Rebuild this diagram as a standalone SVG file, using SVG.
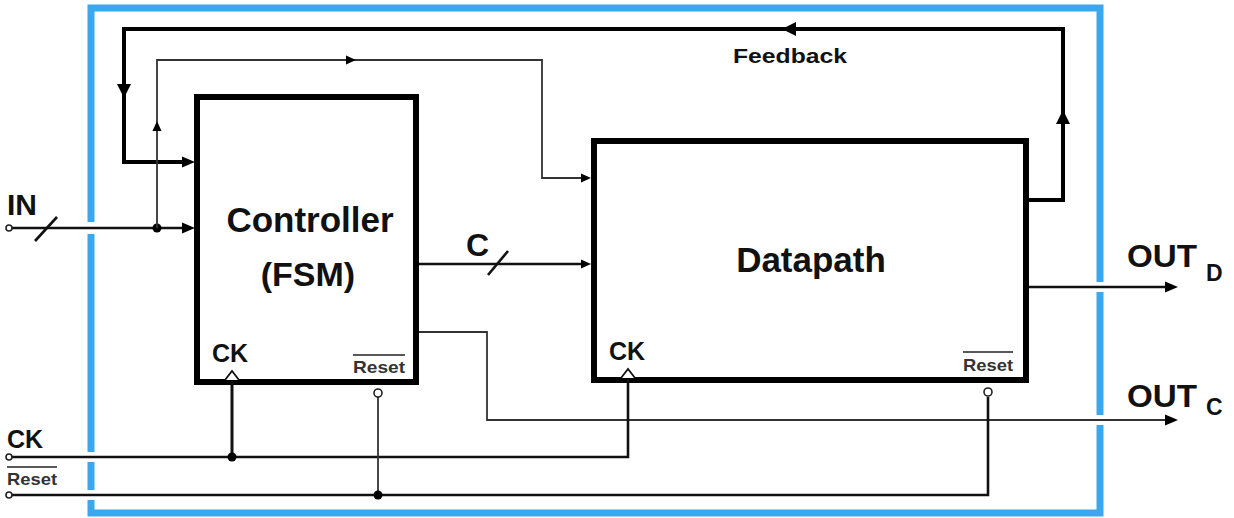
<svg xmlns="http://www.w3.org/2000/svg" xmlns:xlink="http://www.w3.org/1999/xlink" width="1234" height="518" viewBox="0 0 1234 518">
<style>
text{font-family:"Liberation Sans",Arial,sans-serif;font-weight:bold;fill:#111}
.box{fill:#fff;stroke:#000;stroke-width:6}
.thick{fill:none;stroke:#000;stroke-width:4}
.med{fill:none;stroke:#111;stroke-width:2.6}
.thin{fill:none;stroke:#333;stroke-width:1.8}
.ah{fill:#000}
.dot{fill:#000}
.port{fill:#fff;stroke:#222;stroke-width:1.6}
.ovl{stroke:#222;stroke-width:1.6}
.rst{font-size:17px;font-weight:bold;fill:#333}
.sub{font-size:23px}
</style>
<defs>
<path id="ahL" d="M0,0 L-14,-7 L-14,7 Z"/>
<path id="ahM" d="M0,0 L-13,-5.5 L-13,5.5 Z"/>
<path id="ahS" d="M0,0 L-10,-4.5 L-10,4.5 Z"/>
</defs>
<rect width="1234" height="518" fill="#fff"/>
<g id="border">
<rect x="91" y="8" width="1009" height="505" fill="none" stroke="#3ba7ee" stroke-width="7"/>
<rect x="86" y="222" width="11" height="12" fill="#fff"/>
<rect x="86" y="452" width="11" height="10" fill="#fff"/>
<rect x="86" y="490" width="11" height="10" fill="#fff"/>
<rect x="1095" y="282" width="11" height="10" fill="#fff"/>
<rect x="1095" y="415" width="11" height="10" fill="#fff"/>
</g>
<g id="controller">
<rect class="box" x="197" y="97" width="219" height="285"/>
<text x="310" y="232" font-size="35" text-anchor="middle">Controller</text>
<text x="308" y="286" font-size="34" text-anchor="middle">(FSM)</text>
<text x="212" y="362" font-size="25">CK</text>
<line class="ovl" x1="353" y1="355" x2="405" y2="355"/>
<text class="rst" x="353" y="373" textLength="52" lengthAdjust="spacingAndGlyphs">Reset</text>
</g>
<g id="datapath">
<rect class="box" x="594" y="141" width="432" height="239"/>
<text x="811" y="272" font-size="35" text-anchor="middle">Datapath</text>
<text x="609" y="360" font-size="25">CK</text>
<line class="ovl" x1="963" y1="352" x2="1013" y2="352"/>
<text class="rst" x="963" y="371" textLength="50" lengthAdjust="spacingAndGlyphs">Reset</text>
</g>
<g id="connectors">
<path class="thick" d="M1026,200 H1063 V29 H124 V162 H190"/>
<use href="#ahL" class="ah" transform="translate(782,29) rotate(180)"/>
<use href="#ahL" class="ah" transform="translate(124,98) rotate(90)"/>
<use href="#ahL" class="ah" transform="translate(1063,110) rotate(-90)"/>
<use href="#ahM" class="ah" transform="translate(195,162)"/>
<path class="med" d="M12,228 H190"/>
<use href="#ahM" class="ah" transform="translate(195,228)"/>
<line class="med" x1="35" y1="241" x2="57" y2="217"/>
<circle class="dot" cx="157" cy="228" r="4.5"/>
<path class="thin" d="M157,228 V60 H542 V178 H585"/>
<use href="#ahS" class="ah" transform="translate(157,121) rotate(-90)"/>
<use href="#ahS" class="ah" transform="translate(356,60)"/>
<use href="#ahS" class="ah" transform="translate(591,178)"/>
<circle class="port" cx="9" cy="228" r="3"/>
<path class="med" d="M419,264 H585"/>
<use href="#ahS" class="ah" transform="translate(591,264)"/>
<line class="med" x1="488" y1="275" x2="508" y2="251"/>
<path class="med" d="M1029,287 H1168"/>
<use href="#ahM" class="ah" transform="translate(1178,287)"/>
<path class="thin" d="M419,332 H487 V420 H1168"/>
<use href="#ahM" class="ah" transform="translate(1178,420)"/>
<path class="med" d="M12,457 H628 V379"/>
<line x1="232" y1="457" x2="232" y2="381" stroke="#111" stroke-width="3"/>
<circle class="dot" cx="232" cy="457" r="4.5"/>
<path d="M225,380 L232,371 L239,380" fill="#fff" stroke="#111" stroke-width="1.8"/>
<path d="M621,378 L628,369 L635,378" fill="#fff" stroke="#111" stroke-width="1.8"/>
<circle class="port" cx="9" cy="457" r="3"/>
<path class="med" d="M12,495 H988 V397"/>
<line class="thin" x1="378" y1="495" x2="378" y2="397"/>
<circle class="dot" cx="378" cy="495" r="4.5"/>
<circle class="port" cx="378" cy="393" r="4"/>
<circle class="port" cx="988" cy="392" r="4"/>
<circle class="port" cx="9" cy="495" r="3"/>
</g>
<g id="labels">
<text x="7" y="215" font-size="30">IN</text>
<text x="466" y="256" font-size="32">C</text>
<text x="733" y="63" font-size="21" textLength="114" lengthAdjust="spacingAndGlyphs">Feedback</text>
<text x="1127" y="267" font-size="31" textLength="70" lengthAdjust="spacingAndGlyphs">OUT</text>
<text class="sub" x="1206" y="281">D</text>
<text x="1127" y="407" font-size="31" textLength="70" lengthAdjust="spacingAndGlyphs">OUT</text>
<text class="sub" x="1206" y="415">C</text>
<text x="7" y="448" font-size="25">CK</text>
<line class="ovl" x1="7" y1="467" x2="57" y2="467"/>
<text class="rst" x="7" y="485" textLength="50" lengthAdjust="spacingAndGlyphs">Reset</text>
</g>
</svg>
